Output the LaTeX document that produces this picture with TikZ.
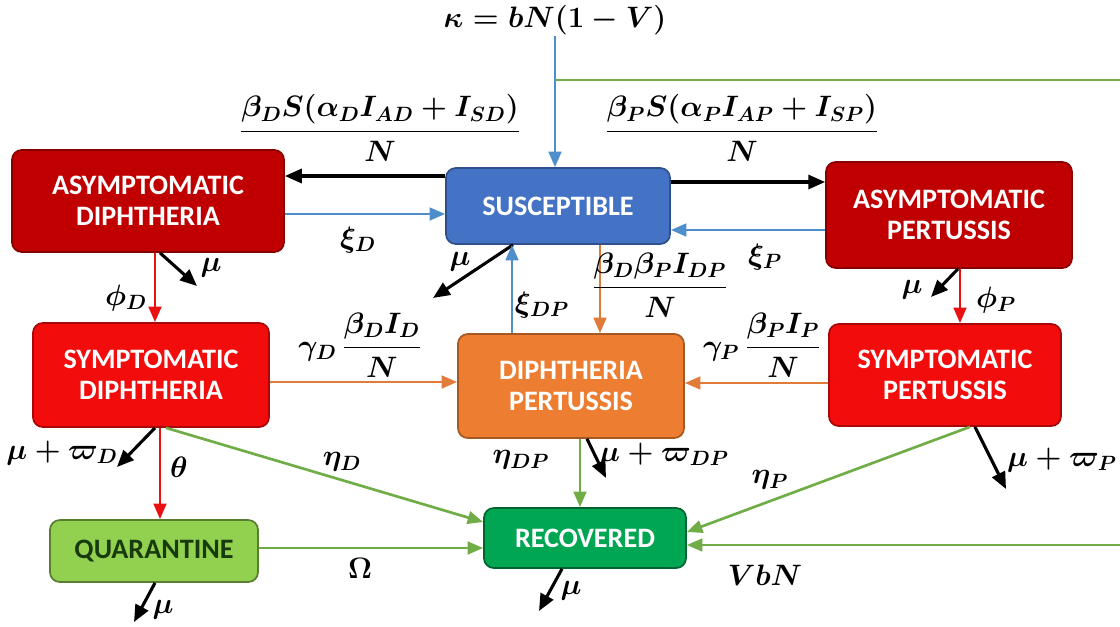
\documentclass[tikz,border=0pt]{standalone}
\usepackage{fix-cm}
\usepackage{amsmath,amssymb}
\usepackage{bm}
\usepackage{fontspec}
\newfontfamily\boxfont{Carlito}
\usetikzlibrary{arrows.meta}

\definecolor{adred}{HTML}{C00000}
\definecolor{sred}{HTML}{F20C0C}
\definecolor{sblue}{HTML}{4472C4}
\definecolor{dporange}{HTML}{ED7D31}
\definecolor{qgreen}{HTML}{92D050}
\definecolor{rgreen}{HTML}{00A651}
\definecolor{qtext}{HTML}{173A0E}
\definecolor{ablue}{HTML}{4E8FCB}
\definecolor{agreen}{HTML}{70AD47}
\definecolor{aorange}{HTML}{E07B39}
\definecolor{ared}{HTML}{E81010}

\begin{document}
\begin{tikzpicture}[x=0.025cm, y=-0.025cm,
    box/.style={rounded corners=7pt, line width=1.2pt, align=center, text=white,
      font=\boxfont\bfseries\fontsize{20}{22}\selectfont},
    lab/.style={font=\boldmath\fontsize{21}{25}\selectfont, inner sep=1pt},
    flow/.style={line width=1.9pt, -{Triangle[length=11pt,width=9pt]}},
    death/.style={line width=2.2pt, -{Triangle[length=12pt,width=10pt]}}]
  \useasboundingbox (0,0) rectangle (1120,626);

  % compartments
  \node[box, fill=sblue, draw=sblue!70!black, minimum width=5.6cm, minimum height=1.9cm] (S) at (558,206) {SUSCEPTIBLE};
  \node[box, fill=adred, draw=adred!70!black, minimum width=6.8cm, minimum height=2.55cm] (AD) at (148,201) {ASYMPTOMATIC\\DIPHTHERIA};
  \node[box, fill=adred, draw=adred!70!black, minimum width=6.15cm, minimum height=2.65cm] (AP) at (949,215) {ASYMPTOMATIC\\PERTUSSIS};
  \node[box, fill=sred, draw=sred!70!black, minimum width=5.9cm, minimum height=2.6cm] (SD) at (151,375) {SYMPTOMATIC\\DIPHTHERIA};
  \node[box, fill=dporange, draw=dporange!70!black, minimum width=5.65cm, minimum height=2.6cm] (DP) at (571,386) {DIPHTHERIA\\PERTUSSIS};
  \node[box, fill=sred, draw=sred!70!black, minimum width=5.8cm, minimum height=2.55cm] (SP) at (945,375) {SYMPTOMATIC\\PERTUSSIS};
  \node[box, fill=qgreen, draw=qgreen!60!black, text=qtext, minimum width=5.2cm, minimum height=1.55cm] (Q) at (154,551) {QUARANTINE};
  \node[box, fill=rgreen, draw=rgreen!60!black, minimum width=5.05cm, minimum height=1.5cm] (R) at (585,538) {RECOVERED};

  % recruitment
  \node[lab] (kap) at (555,20) {$\kappa = bN(1-V)$};
  \draw[flow, ablue] (kap.south) -- (S.north -| kap.south);
  \coordinate (vb) at (555,80);
  \draw[flow, agreen] (vb) -- (1135,80) -- (1135,545) -- (R.east |- 0,545);
  \node[lab] (lVbN) at (765,575) {$VbN$};

  % infection and return to S
  \draw[death] (S.west |- 0,176) -- (AD.east |- 0,176);
  \node[lab] (lAD) at (380,128) {$\dfrac{\beta_D S(\alpha_D I_{AD}+I_{SD})}{N}$};
  \draw[flow, ablue] (AD.east |- 0,214) -- (S.west |- 0,214);
  \node[lab] (lxiD) at (358,240) {$\xi_D$};
  \draw[death] (S.east |- 0,182) -- (AP.west |- 0,182);
  \node[lab] (lAP) at (742,128) {$\dfrac{\beta_P S(\alpha_P I_{AP}+I_{SP})}{N}$};
  \draw[flow, ablue] (AP.west |- 0,230) -- (S.east |- 0,230);
  \node[lab] (lxiP) at (765,257) {$\xi_P$};

  % susceptible to co-infection
  \coordinate (muS) at (433,298);
  \draw[death] (S.south -| 513,0) -- (muS);
  \node[lab] (lmuS) at (460,262) {$\mu$};
  \draw[flow, ablue] (DP.north -| 512,0) -- (S.south -| 512,0);
  \node[lab] (lxiDP) at (542,305) {$\xi_{DP}$};
  \draw[flow, aorange] (S.south -| 600,0) -- (DP.north -| 600,0);
  \node[lab] (lDP) at (660,285) {$\dfrac{\beta_D\beta_P I_{DP}}{N}$};

  % asymptomatic to symptomatic
  \draw[flow, ared] (AD.south -| 155,0) -- (SD.north -| 155,0);
  \node[lab] (lphiD) at (126,298) {$\phi_D$};
  \coordinate (muAD) at (197,286);
  \draw[death] (AD.south -| 160,0) -- (muAD);
  \node[lab] (lmuAD) at (211,268) {$\mu$};
  \draw[flow, ared] (AP.south -| 960,0) -- (SP.north -| 960,0);
  \node[lab] (lphiP) at (996,300) {$\phi_P$};
  \coordinate (muAP) at (931,297);
  \draw[death] (AP.south -| 958,0) -- (muAP);
  \node[lab] (lmuAP) at (912,290) {$\mu$};

  % symptomatic to co-infection
  \draw[flow, aorange] (SD.east |- 0,382) -- (DP.west |- 0,382);
  \node[lab] (lgD) at (360,345) {$\gamma_D\,\dfrac{\beta_D I_D}{N}$};
  \draw[flow, aorange] (SP.west |- 0,383) -- (DP.east |- 0,383);
  \node[lab] (lgP) at (762,345) {$\gamma_P\,\dfrac{\beta_P I_P}{N}$};

  % symptomatic diphtheria outflows
  \coordinate (muSD) at (117,467);
  \draw[death] (SD.south -| 155,0) -- (muSD);
  \node[lab] (lmuSD) at (62,453) {$\mu+\varpi_D$};
  \draw[flow, ared] (SD.south -| 160,0) -- (Q.north -| 160,0);
  \node[lab] (ltheta) at (179,467) {$\theta$};
  \draw[flow, agreen] (SD.south -| 166,0) -- (R.west |- 0,522);
  \node[lab] (letaD) at (342,462) {$\eta_D$};

  % quarantine
  \draw[flow, agreen] (Q.east |- 0,548) -- (R.west |- 0,548);
  \node[lab] (lOmega) at (360,568) {$\Omega$};
  \coordinate (muQ) at (134,622);
  \draw[death] (Q.south -| 155,0) -- (muQ);
  \node[lab] (lmuQ) at (163,610) {$\mu$};

  % co-infection outflows
  \draw[flow, agreen] (DP.south -| 580,0) -- (R.north -| 580,0);
  \node[lab] (letaDP) at (521,460) {$\eta_{DP}$};
  \coordinate (muDP) at (606,478);
  \draw[death] (DP.south -| 587,0) -- (muDP);
  \node[lab] (lmuDP) at (664,455) {$\mu+\varpi_{DP}$};

  % symptomatic pertussis outflows
  \draw[flow, agreen] (SP.south -| 970,0) -- (R.east |- 0,532);
  \node[lab] (letaP) at (770,480) {$\eta_P$};
  \coordinate (muSP) at (1006,489);
  \draw[death] (SP.south -| 975,0) -- (muSP);
  \node[lab] (lmuSP) at (1062,460) {$\mu+\varpi_P$};

  % recovered
  \coordinate (muR) at (539,611);
  \draw[death] (R.south -| 562,0) -- (muR);
  \node[lab] (lmuR) at (571,591) {$\mu$};
\end{tikzpicture}
\end{document}
